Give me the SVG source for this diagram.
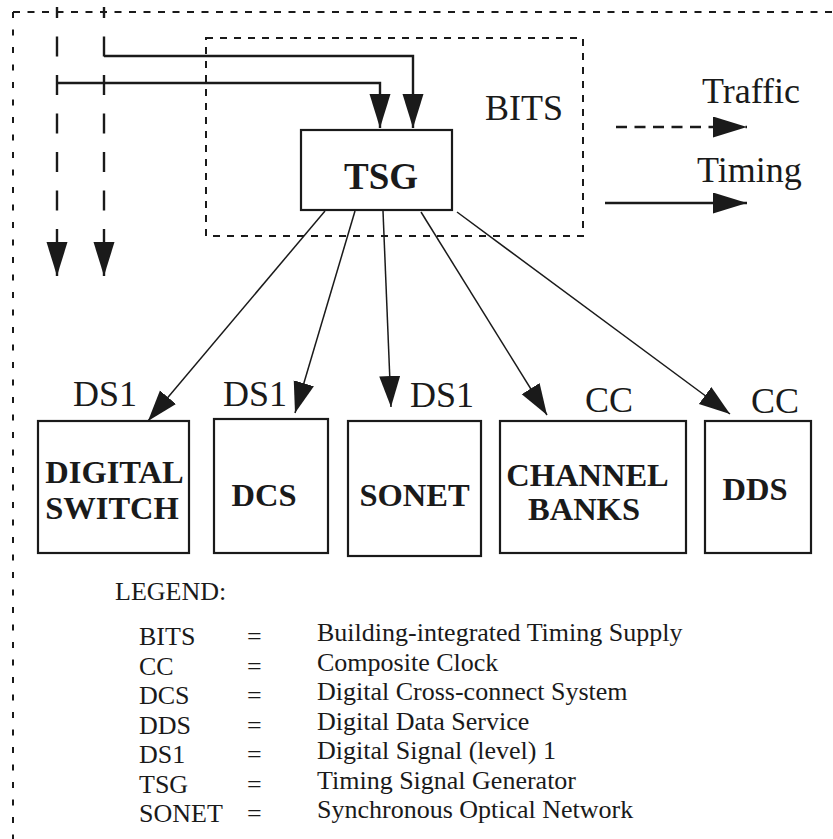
<svg xmlns="http://www.w3.org/2000/svg" width="833" height="839" viewBox="0 0 833 839">
<style>
text{font-family:"Liberation Serif","Times New Roman",serif;fill:#1a1a1a}
.lbl{font-size:36px}
.box{font-size:32.5px;font-weight:bold;text-anchor:middle}
.leg{font-size:26px}
.node rect{fill:#fff;stroke:#1a1a1a;stroke-width:2.2}
.border{fill:none;stroke:#1a1a1a;stroke-width:2}
.thin{fill:none;stroke:#1a1a1a;stroke-width:1.5}
.solid{fill:none;stroke:#1a1a1a;stroke-width:2.4}
.traffic{fill:none;stroke:#1a1a1a;stroke-width:2.4;stroke-dasharray:20 18.5}
</style>
<defs>
<marker id="ah" markerUnits="userSpaceOnUse" markerWidth="35" markerHeight="22" refX="34" refY="10.5" orient="auto">
<path d="M0,0 L34,10.5 L0,21 z" fill="#1a1a1a"/>
</marker>
<marker id="ahs" markerUnits="userSpaceOnUse" markerWidth="32" markerHeight="22" refX="31" refY="10.5" orient="auto">
<path d="M0,0 L31,10.5 L0,21 z" fill="#1a1a1a"/>
</marker>
</defs>
<rect width="833" height="839" fill="#fff"/>
<g id="outer-border">
<line class="border" x1="13" y1="12" x2="833" y2="12" stroke-dasharray="7 7.5"/>
<line class="border" x1="13" y1="12" x2="13" y2="839" stroke-dasharray="6 11.5"/>
</g>
<g id="bits">
<rect class="border" x="206" y="38" width="377" height="198" stroke-dasharray="7 7"/>
<text class="lbl" x="485" y="120">BITS</text>
</g>
<g id="tsg" class="node">
<rect x="301" y="130" width="151" height="80"/>
<text x="381" y="189" style="font-size:37px;font-weight:bold;text-anchor:middle">TSG</text>
</g>
<g id="digital-switch" class="node">
<rect x="38" y="421" width="151" height="132"/>
<text class="box" x="114.5" y="483">DIGITAL</text>
<text class="box" x="112" y="519">SWITCH</text>
<text class="lbl" x="73" y="406">DS1</text>
</g>
<g id="dcs" class="node">
<rect x="214" y="419" width="114" height="134"/>
<text class="box" x="264" y="506">DCS</text>
<text class="lbl" x="223" y="406">DS1</text>
</g>
<g id="sonet" class="node">
<rect x="348" y="421" width="133" height="135"/>
<text class="box" x="414.5" y="506">SONET</text>
<text class="lbl" x="410" y="407">DS1</text>
</g>
<g id="channel-banks" class="node">
<rect x="500" y="421" width="186" height="132"/>
<text class="box" x="587.5" y="486">CHANNEL</text>
<text class="box" x="584" y="520">BANKS</text>
<text class="lbl" x="585" y="412">CC</text>
</g>
<g id="dds" class="node">
<rect x="705" y="421" width="106" height="132"/>
<text class="box" x="755" y="500">DDS</text>
<text class="lbl" x="751" y="413">CC</text>
</g>
<g id="key">
<text class="lbl" x="702" y="103">Traffic</text>
<text class="lbl" x="697" y="182">Timing</text>
</g>
<g id="connectors">
<line class="traffic" x1="57" y1="7" x2="57" y2="276" stroke-dashoffset="9" marker-end="url(#ah)"/>
<line class="traffic" x1="104" y1="7" x2="104" y2="276" stroke-dashoffset="9" marker-end="url(#ah)"/>
<polyline class="solid" points="104,56 413,56 413,128" marker-end="url(#ah)"/>
<polyline class="solid" points="57,83 380,83 380,128" marker-end="url(#ah)"/>
<line class="traffic" x1="616" y1="127" x2="747" y2="127" style="stroke-dasharray:11 7.5" marker-end="url(#ah)"/>
<line class="solid" x1="605" y1="203" x2="747" y2="203" marker-end="url(#ah)"/>
<line class="thin" x1="325" y1="211" x2="148" y2="421" marker-end="url(#ahs)"/>
<line class="thin" x1="355" y1="211" x2="295" y2="413" marker-end="url(#ahs)"/>
<line class="thin" x1="383" y1="211" x2="391" y2="407" marker-end="url(#ahs)"/>
<line class="thin" x1="421" y1="212" x2="547" y2="415" marker-end="url(#ahs)"/>
<line class="thin" x1="457" y1="212" x2="730" y2="414" marker-end="url(#ahs)"/>
</g>
<g id="legend" class="leg">
<text class="leg" x="115" y="600">LEGEND:</text>
<text class="leg" x="139" y="645">BITS</text>
<text class="leg" x="139" y="674.5">CC</text>
<text class="leg" x="139" y="704">DCS</text>
<text class="leg" x="139" y="733.5">DDS</text>
<text class="leg" x="139" y="763">DS1</text>
<text class="leg" x="139" y="792.5">TSG</text>
<text class="leg" x="139" y="822">SONET</text>
<text class="leg" x="247" y="645">=</text>
<text class="leg" x="247" y="674.5">=</text>
<text class="leg" x="247" y="704">=</text>
<text class="leg" x="247" y="733.5">=</text>
<text class="leg" x="247" y="763">=</text>
<text class="leg" x="247" y="792.5">=</text>
<text class="leg" x="247" y="822">=</text>
<text class="leg" x="317" y="641">Building-integrated Timing Supply</text>
<text class="leg" x="317" y="670.5">Composite Clock</text>
<text class="leg" x="317" y="700">Digital Cross-connect System</text>
<text class="leg" x="317" y="729.5">Digital Data Service</text>
<text class="leg" x="317" y="759">Digital Signal (level) 1</text>
<text class="leg" x="317" y="788.5">Timing Signal Generator</text>
<text class="leg" x="317" y="818">Synchronous Optical Network</text>
</g>
</svg>
